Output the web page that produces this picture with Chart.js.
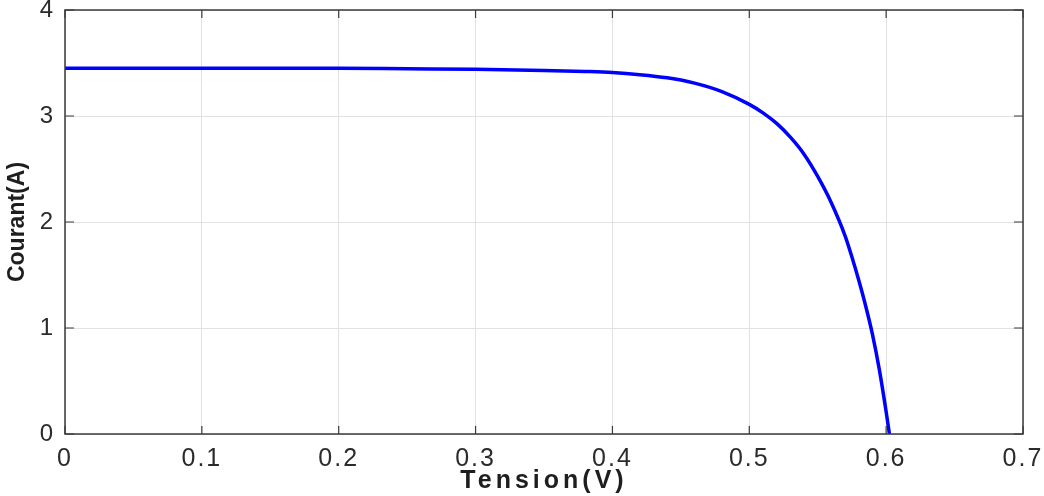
<!DOCTYPE html>
<html>
<head>
<meta charset="utf-8">
<script src="https://cdn.jsdelivr.net/npm/chart.js@4.4.1/dist/chart.umd.min.js"></script>
<style>
  html, body { margin: 0; padding: 0; background: #fff; }
  #wrap { width: 1044px; height: 496px; position: relative; }
</style>
</head>
<body>
<div id="wrap"><canvas id="ivChart"></canvas></div>
<script>
// I-V curve
const tension = [0, 0.05, 0.1, 0.15, 0.2, 0.25, 0.3, 0.35, 0.38, 0.4, 0.42, 0.44, 0.46, 0.48, 0.5,
  0.51, 0.52, 0.53, 0.54, 0.55, 0.56, 0.57, 0.575, 0.58, 0.585, 0.59, 0.595, 0.6, 0.6024];
const courant = [3.45, 3.45, 3.45, 3.45, 3.45, 3.445, 3.44, 3.43, 3.42, 3.41, 3.39, 3.36, 3.31, 3.23, 3.11,
  3.03, 2.93, 2.80, 2.64, 2.43, 2.18, 1.87, 1.67, 1.45, 1.21, 0.94, 0.61, 0.21, 0];
const xTicks = [0, 0.1, 0.2, 0.3, 0.4, 0.5, 0.6, 0.7];
const yTicks = [0, 1, 2, 3, 4];

const points = tension.map((v, i) => ({ x: v, y: courant[i] }));

// box around the axes + small inward ticks (MATLAB look)
const frame = {
  id: 'frame',
  afterDraw(chart) {
    const { ctx, chartArea: a, scales } = chart;
    ctx.save();
    ctx.strokeStyle = '#3a3a3a';
    ctx.lineWidth = 1.5;
    ctx.strokeRect(a.left, a.top, a.right - a.left, a.bottom - a.top);
    ctx.lineWidth = 1.2;
    ctx.beginPath();
    xTicks.forEach(t => {
      const px = scales.x.getPixelForValue(t);
      ctx.moveTo(px, a.bottom); ctx.lineTo(px, a.bottom - 8);
      ctx.moveTo(px, a.top); ctx.lineTo(px, a.top + 8);
    });
    yTicks.forEach(t => {
      const py = scales.y.getPixelForValue(t);
      ctx.moveTo(a.left, py); ctx.lineTo(a.left + 9, py);
      ctx.moveTo(a.right, py); ctx.lineTo(a.right - 9, py);
    });
    ctx.stroke();
    ctx.restore();
  }
};

// the picture is stretched sideways: widen the x texts a bit with letter spacing
const spacing = {
  id: 'spacing',
  beforeLayout(chart) {
    const x = chart.scales.x, y = chart.scales.y;
    if (x && !x._wrapped) {
      const draw = x.draw, drawTitle = x.drawTitle;
      x.draw = function (...args) {
        this.ctx.letterSpacing = '2px';
        draw.apply(this, args);
        this.ctx.letterSpacing = '0px';
      };
      x.drawTitle = function (...args) {
        this.ctx.letterSpacing = '4px';
        drawTitle.apply(this, args);
        this.ctx.letterSpacing = '2px';
      };
      x._wrapped = true;
    }
    if (y && !y._wrapped) {
      const draw = y.draw;
      y.draw = function (...args) {
        this.ctx.letterSpacing = '0px';
        draw.apply(this, args);
      };
      y._wrapped = true;
    }
  }
};

new Chart(document.getElementById('ivChart'), {
  type: 'scatter',
  data: {
    datasets: [{
      data: points,
      showLine: true,
      borderColor: '#0000ff',
      borderWidth: 3.5,
      pointRadius: 0,
      cubicInterpolationMode: 'monotone'
    }]
  },
  options: {
    responsive: true,
    maintainAspectRatio: false,
    animation: false,
    layout: { padding: { top: 10, right: 21, left: 0, bottom: 0 } },
    plugins: { legend: { display: false }, tooltip: { enabled: false } },
    scales: {
      x: {
        type: 'linear',
        min: 0,
        max: 0.7,
        afterFit: s => { s.height = 62; s.paddingLeft = 0; s.paddingRight = 0; },
        afterBuildTicks: s => { s.ticks = xTicks.map(v => ({ value: v })); },
        grid: { color: '#e2e2e2', lineWidth: 1, drawTicks: false },
        border: { display: false },
        ticks: {
          padding: 10,
          color: '#2b2b2b',
          font: { family: 'Liberation Sans, Arial, sans-serif', size: 25 },
          callback: v => String(v)
        },
        title: {
          display: true,
          text: 'Tension(V)',
          color: '#1e1e1e',
          padding: { top: 0, bottom: 0 },
          font: { family: 'Liberation Sans, Arial, sans-serif', size: 25, weight: 'bold' }
        }
      },
      y: {
        min: 0,
        max: 4,
        afterFit: s => { s.width = 65; s.paddingTop = 0; s.paddingBottom = 0; },
        afterBuildTicks: s => { s.ticks = yTicks.map(v => ({ value: v })); },
        grid: { color: '#e2e2e2', lineWidth: 1, drawTicks: false },
        border: { display: false },
        ticks: {
          padding: 12,
          color: '#2b2b2b',
          font: { family: 'Liberation Sans, Arial, sans-serif', size: 24 },
          callback: v => String(v)
        },
        title: {
          display: true,
          text: 'Courant(A)',
          color: '#1e1e1e',
          padding: { top: 4, bottom: 0 },
          font: { family: 'Liberation Sans, Arial, sans-serif', size: 23, weight: 'bold' }
        }
      }
    }
  },
  plugins: [spacing, frame]
});
</script>
</body>
</html>
